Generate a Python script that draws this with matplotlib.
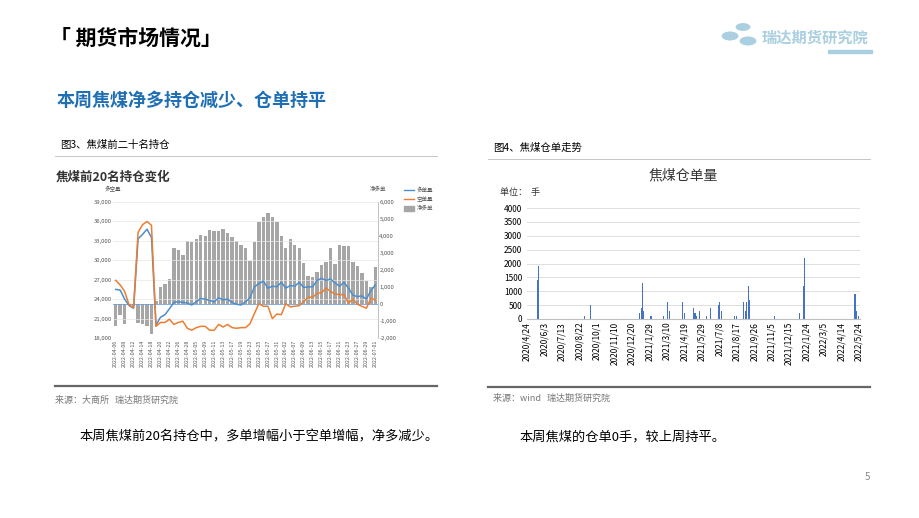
import matplotlib.pyplot as plt
import matplotlib.dates as mdates
from matplotlib.patches import Circle, Rectangle
from matplotlib.lines import Line2D
import numpy as np
import pandas as pd

plt.rcParams['font.family'] = ['Noto Sans CJK SC', 'DejaVu Sans']

# 图3 数据：前二十名持仓
days = ["04-06", "04-07", "04-08", "04-11", "04-12", "04-13", "04-14", "04-15", "04-18", "04-19",
        "04-20", "04-21", "04-22", "04-25", "04-26", "04-27", "04-28", "04-29",
        "05-05", "05-06", "05-09", "05-10", "05-11", "05-12", "05-13", "05-16", "05-17", "05-18",
        "05-19", "05-20", "05-23", "05-24", "05-25", "05-26", "05-27", "05-30", "05-31",
        "06-01", "06-02", "06-06", "06-07", "06-08", "06-09", "06-10", "06-13", "06-14", "06-15",
        "06-16", "06-17", "06-20", "06-21", "06-22", "06-23", "06-24", "06-27", "06-28", "06-29",
        "06-30", "07-01"]
net_long = [-1300, -650, -1150, -50, -100, -1100, -1200, -1300, -1750, 150,
            1000, 1200, 1450, 3300, 3200, 2900, 3700, 3650, 3800, 4050, 4000, 4350, 4300, 4300,
            4400, 4200, 3950, 3700, 3450, 3300, 2550, 3650, 4800, 5100, 5350, 5100, 4800, 4000,
            3300, 3800, 3450, 3300, 2400, 1650, 1600, 1900, 2300, 2500, 3300, 2350, 3450, 3400,
            3400, 2450, 2250, 1800, 1350, 1000, 2150]
long_pos = [25500, 25400, 24000, 23000, 22600, 33300, 34000, 34800, 33500, 20000,
            21200, 21600, 22500, 23500, 23600, 23500, 23400, 23100, 23600, 24100, 24000, 23800,
            23600, 24200, 23900, 24000, 23500, 23200, 23100, 23600, 24200, 25900, 26400, 26800,
            25700, 26000, 25900, 26600, 25700, 26100, 26000, 26600, 25800, 25900, 25900, 26900,
            27200, 26900, 27100, 26500, 26000, 26600, 25700, 24600, 24400, 24500, 24000, 25300, 26200]
short_pos = [26900, 26200, 25200, 23100, 22700, 34300, 35500, 36000, 35400, 19800,
             20400, 20400, 20900, 20100, 20400, 20600, 19500, 19200, 19600, 19800, 19800, 19200,
             19200, 20100, 19700, 20100, 19600, 19500, 19600, 19600, 20200, 21800, 23300, 22900,
             22900, 21000, 21700, 21600, 23300, 22800, 22900, 23000, 23600, 24300, 24300, 24900,
             25000, 25700, 25200, 24800, 24700, 24700, 23400, 24000, 23200, 22900, 22600, 24100, 23900]

# 图4 数据：焦煤仓单量（非零日）
wr_dates = ["2020-05-18", "2020-05-19", "2020-05-20", "2020-09-02", "2020-09-15", "2020-09-16",
            "2021-01-06", "2021-01-08", "2021-01-11", "2021-01-12", "2021-01-13", "2021-01-14", "2021-01-15",
            "2021-02-01", "2021-02-02", "2021-02-03", "2021-02-04", "2021-03-01", "2021-03-02",
            "2021-03-11", "2021-03-12", "2021-03-15", "2021-03-16",
            "2021-04-15", "2021-04-16", "2021-04-19", "2021-04-20",
            "2021-05-07", "2021-05-10", "2021-05-12", "2021-05-14", "2021-05-17", "2021-05-20", "2021-05-24",
            "2021-06-08", "2021-06-09", "2021-06-17", "2021-06-18",
            "2021-07-06", "2021-07-07", "2021-07-08", "2021-07-09", "2021-07-12", "2021-07-13", "2021-07-14",
            "2021-08-12", "2021-08-16",
            "2021-09-01", "2021-09-02", "2021-09-06", "2021-09-07", "2021-09-08", "2021-09-13", "2021-09-14", "2021-09-15",
            "2021-10-21", "2021-11-12", "2021-11-15",
            "2022-01-07", "2022-01-11", "2022-01-13", "2022-01-17", "2022-01-19", "2022-01-20",
            "2022-05-13", "2022-05-16", "2022-05-18", "2022-05-19", "2022-05-23"]
wr_values = [1400, 1900, 1900, 100, 500, 500,
             200, 400, 400, 1200, 1300, 1100, 300,
             100, 300, 100, 100, 100, 100,
             600, 600, 400, 300,
             600, 400, 200, 200,
             400, 400, 200, 200, 100, 300, 300,
             200, 100, 400, 400,
             500, 500, 600, 400, 600, 300, 200,
             100, 100,
             600, 600, 300, 900, 600, 1200, 1400, 700,
             100, 100, 100,
             200, 400, 700, 1200, 2200, 2200,
             900, 900, 300, 300, 100]

fig = plt.figure(figsize=(9.2, 5.18), dpi=100)
W, H = 920, 518
def fx(px): return px / W
def fy(py): return 1 - py / H

# 页眉
fig.text(fx(50), fy(38), "「 期货市场情况」", fontsize=15, fontweight='bold', va='center')
fig.text(fx(57), fy(100), "本周焦煤净多持仓减少、仓单持平", fontsize=13, fontweight='bold',
         color='#1f6fb5', va='center')
fig.text(fx(762), fy(38), "瑞达期货研究院", fontsize=11, fontweight='bold', style='italic',
         color='#a9cfe0', va='center')
for cx, cy, r in [(730, 36, 9), (743, 27, 8), (748, 41, 9)]:
    fig.patches.append(Circle((fx(cx), fy(cy)), r / W, transform=fig.transFigure,
                              color='#a9cfe0', ec='white', lw=0.8, zorder=1))
fig.patches.append(Rectangle((fx(828), fy(53)), 44 / W, 3 / H, transform=fig.transFigure,
                             color='#a9cfe0'))

# 图注与分隔线
fig.text(fx(60), fy(145), "图3、焦煤前二十名持仓", fontsize=7.5, va='center')
fig.text(fx(493), fy(148), "图4、焦煤仓单走势", fontsize=7.5, va='center')
for x0, x1, y in [(55, 437, 156), (488, 870, 159)]:
    fig.add_artist(Line2D([fx(x0), fx(x1)], [fy(y), fy(y)], color='#bbbbbb', lw=0.6))
for x0, x1, y in [(55, 437, 386), (488, 870, 387)]:
    fig.add_artist(Line2D([fx(x0), fx(x1)], [fy(y), fy(y)], color='#666666', lw=1.6))
fig.text(fx(55), fy(400), "来源：大商所   瑞达期货研究院", fontsize=6.5, color='#777777', va='center')
fig.text(fx(493), fy(398), "来源：wind   瑞达期货研究院", fontsize=6.5, color='#777777', va='center')
fig.text(fx(80), fy(437), "本周焦煤前20名持仓中，多单增幅小于空单增幅，净多减少。", fontsize=9.5, va='center')
fig.text(fx(520), fy(437), "本周焦煤的仓单0手，较上周持平。", fontsize=9.5, va='center')
fig.text(fx(865), fy(477), "5", fontsize=7, color='#888888', va='center')

# 左图
fig.text(fx(56), fy(177), "焦煤前20名持仓变化", fontsize=9, fontweight='bold', color='#333333', va='center')
fig.text(fx(105), fy(189), "多空量", fontsize=4, color='#555555', va='center')
fig.text(fx(370), fy(189), "净多单", fontsize=4, color='#555555', va='center')
axL = fig.add_axes([fx(113), fy(338), 265 / W, 136 / H])
x = np.arange(len(days))
axR = axL.twinx()
axR.bar(x, net_long, width=0.75, color='#a6a6a6', zorder=1)
axR.axhline(0, color='#6f9fd8', lw=0.6)
axR.set_ylim(-2000, 6000)
axR.set_yticks(range(-2000, 6001, 1000))
axR.set_yticklabels([f"{v:,}" for v in range(-2000, 6001, 1000)])
axL.set_zorder(axR.get_zorder() + 1)
axL.patch.set_visible(False)
axL.plot(x, long_pos, color='#4a8fd0', lw=1.1)
axL.plot(x, short_pos, color='#ec7d31', lw=1.1)
axL.set_ylim(18000, 39000)
axL.set_yticks(range(18000, 39001, 3000))
axL.set_yticklabels([f"{v:,}" for v in range(18000, 39001, 3000)])
axL.set_xlim(-0.6, len(days) - 0.4)
axL.set_xticks(x[::2])
axL.set_xticklabels(["2022-" + d for d in days[::2]], rotation=90, fontsize=3.8, color='#555555')
axL.grid(axis='y', color='#e6e6e6', lw=0.5)
for a in (axL, axR):
    a.tick_params(axis='y', labelsize=4.3, colors='#555555', length=0, pad=1)
    a.tick_params(axis='x', length=0, pad=1)
    for s in a.spines.values():
        s.set_visible(False)
axR.spines['right'].set_visible(True)
axR.spines['right'].set_color('#aaaaaa')
axR.spines['right'].set_linewidth(0.5)
# 图例
for i, (lab, c, kind) in enumerate([("多单量", '#4a8fd0', 'l'), ("空单量", '#ec7d31', 'l'), ("净多单", '#a6a6a6', 'b')]):
    yy = fy(190 + i * 9)
    if kind == 'l':
        fig.add_artist(Line2D([fx(404), fx(414)], [yy, yy], color=c, lw=1))
    else:
        fig.patches.append(Rectangle((fx(404), yy - 2.5 / H), 10 / W, 5 / H,
                                     transform=fig.transFigure, color=c))
    fig.text(fx(417), yy, lab, fontsize=4, color='#555555', va='center')

# 右图
fig.text(fx(683), fy(175), "焦煤仓单量", fontsize=10, ha='center', va='center', color='#333333')
fig.text(fx(500), fy(193), "单位：  手", fontsize=6.5, va='center', color='#333333')
axW = fig.add_axes([fx(527), fy(319), 333 / W, 111 / H])
d = pd.to_datetime(wr_dates)
axW.bar(d, wr_values, width=1.4, color='#4472c4')
start = pd.Timestamp("2020-04-24")
ticks = [start + pd.Timedelta(days=40 * i) for i in range(20)]
axW.set_xlim(start, pd.Timestamp("2022-05-26"))
axW.set_xticks(ticks)
axW.set_xticklabels([f"{t.year}/{t.month}/{t.day}" for t in ticks], rotation=90, fontsize=6)
axW.set_ylim(0, 4000)
axW.set_yticks(range(0, 4001, 500))
axW.tick_params(axis='y', labelsize=6, length=0)
axW.tick_params(axis='x', length=0, pad=2)
axW.grid(axis='y', color='#d9d9d9', lw=0.6)
axW.set_axisbelow(True)
for s in ('top', 'right', 'left'):
    axW.spines[s].set_visible(False)
axW.spines['bottom'].set_color('#bfbfbf')

fig.savefig("out.png", dpi=100)
